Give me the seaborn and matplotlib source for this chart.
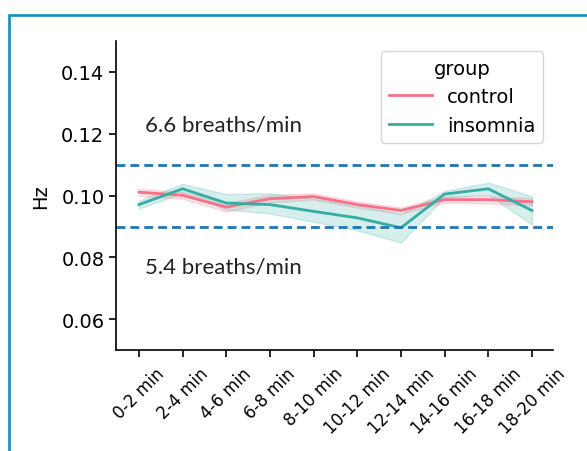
import matplotlib
matplotlib.use("Agg")
import matplotlib.pyplot as plt
from matplotlib.patches import Rectangle
import seaborn as sns
import pandas as pd

times = ["0-2 min", "2-4 min", "4-6 min", "6-8 min", "8-10 min",
         "10-12 min", "12-14 min", "14-16 min", "16-18 min", "18-20 min"]
groups = ["control", "insomnia"]

control_val = [0.1011, 0.1001, 0.0963, 0.0990, 0.0997, 0.0971, 0.0952, 0.0987, 0.0987, 0.0980]
control_lo = [0.1000, 0.0990, 0.0948, 0.0978, 0.0987, 0.0961, 0.0942, 0.0977, 0.0975, 0.0968]
control_hi = [0.1022, 0.1012, 0.0978, 0.1002, 0.1007, 0.0981, 0.0962, 0.0997, 0.0999, 0.0992]

insomnia_val = [0.0971, 0.1022, 0.0976, 0.0971, 0.0949, 0.0928, 0.0896, 0.1005, 0.1022, 0.0952]
insomnia_lo = [0.0958, 0.1008, 0.0955, 0.0942, 0.0915, 0.0888, 0.0848, 0.0995, 0.1003, 0.0906]
insomnia_hi = [0.0984, 0.1038, 0.1005, 0.1008, 0.0990, 0.0970, 0.0940, 0.1015, 0.1042, 0.0998]

ref_lines = [0.11, 0.09]
ref_labels = ["6.6 breaths/min", "5.4 breaths/min"]
ref_label_y = [0.1229, 0.0771]

rows = []
for g, val, lo, hi in [("control", control_val, control_lo, control_hi),
                       ("insomnia", insomnia_val, insomnia_lo, insomnia_hi)]:
    for t, v, l, h in zip(times, val, lo, hi):
        for y in (l, v, h):
            rows.append({"time": t, "Hz": y, "group": g})
df = pd.DataFrame(rows)

fig = plt.figure(figsize=(5.87, 4.52), dpi=100)
ax = fig.add_axes([0.198, 0.223, 0.744, 0.684])

palette = sns.color_palette("husl", 2)
sns.lineplot(data=df, x="time", y="Hz", hue="group", hue_order=groups,
             estimator="median", errorbar=lambda v: (v.min(), v.max()),
             palette=palette, linewidth=2.0, ax=ax)

for yv in ref_lines:
    ax.axhline(yv, color="#1f77b4", linestyle=(0, (3.2, 1.8)), linewidth=2.0)

for yv, txt in zip(ref_label_y, ref_labels):
    ax.text(0.15, yv, txt, fontsize=16, family="Lato", va="center", ha="left",
            color="#222222")

ax.set_ylim(0.05, 0.15)
ax.set_xlim(-0.52, 9.48)
ax.set_yticks([0.06, 0.08, 0.10, 0.12, 0.14])
ax.set_yticklabels(["0.06", "0.08", "0.10", "0.12", "0.14"])
ax.set_xlabel("")
ax.set_ylabel("Hz", fontsize=14, labelpad=8)
ax.tick_params(axis="y", labelsize=14, length=5, width=1.2)
ax.tick_params(axis="x", labelsize=12, length=5, width=1.2, pad=5)
plt.setp(ax.get_xticklabels(), rotation=45)
for s in ["left", "bottom"]:
    ax.spines[s].set_linewidth(1.2)
sns.despine(ax=ax)

leg = ax.legend(title="group", fontsize=14, title_fontsize=14,
                loc="upper right", borderaxespad=0.5, handlelength=2.2)

fig.patches.append(Rectangle((8.5 / 587, -0.1), 1.2, 1.1 - 16 / 452 + 0.0,
                             transform=fig.transFigure, fill=False,
                             edgecolor="#1a8ac6", linewidth=1.9))

fig.savefig("out.png", dpi=100)
